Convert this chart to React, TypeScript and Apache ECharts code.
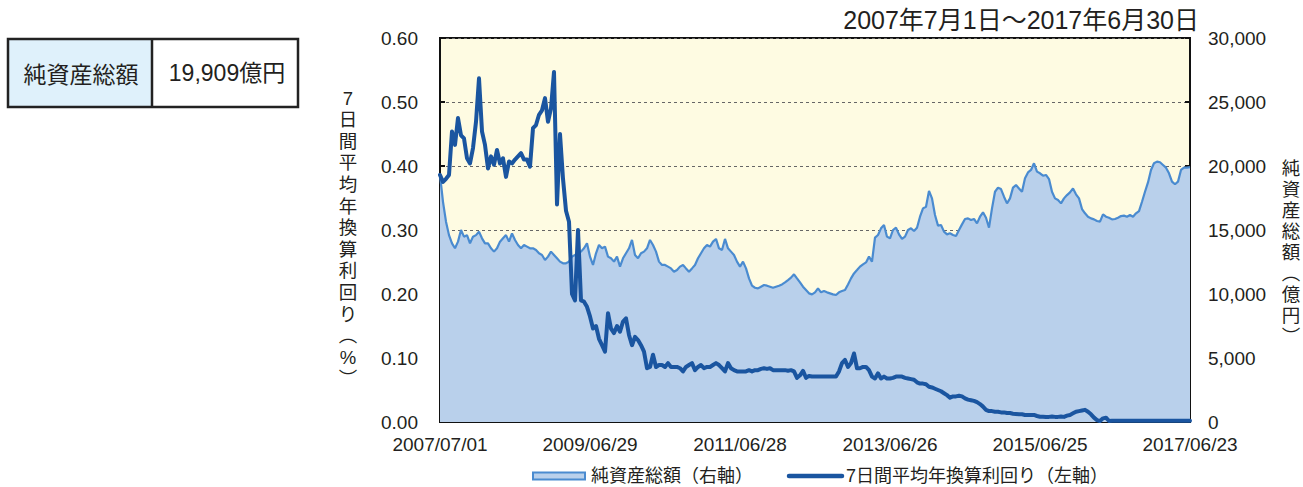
import React, { useEffect, useRef } from 'react';
import * as echarts from 'echarts';

// x-axis tick labels (every 50 samples)
const xTickLabels = ['2007/07/01', '2009/06/29', '2011/06/28', '2013/06/26', '2015/06/25', '2017/06/23'];

// 7日間平均年換算利回り (%) – left axis
const yieldValues = [
  0.386, 0.375, 0.38, 0.386, 0.454, 0.433, 0.475, 0.448, 0.443, 0.412,
  0.404, 0.428, 0.469, 0.537, 0.454, 0.433, 0.396, 0.415, 0.402, 0.425,
  0.404, 0.412, 0.383, 0.407, 0.404, 0.41, 0.415, 0.42, 0.41, 0.41,
  0.399, 0.459, 0.464, 0.48, 0.487, 0.506, 0.469, 0.49, 0.547, 0.34,
  0.45, 0.38, 0.33, 0.313, 0.2, 0.19, 0.3, 0.19, 0.188, 0.18,
  0.165, 0.146, 0.15, 0.13, 0.12, 0.11, 0.17, 0.146, 0.139, 0.15,
  0.141, 0.157, 0.162, 0.136, 0.12, 0.133, 0.128, 0.12, 0.11, 0.084,
  0.086, 0.105, 0.086, 0.089, 0.089, 0.086, 0.092, 0.086, 0.086, 0.086,
  0.084, 0.079, 0.086, 0.089, 0.092, 0.081, 0.086, 0.089, 0.084, 0.086,
  0.086, 0.089, 0.092, 0.089, 0.084, 0.079, 0.092, 0.084, 0.081, 0.079,
  0.079, 0.079, 0.079, 0.081, 0.079, 0.081, 0.081, 0.083, 0.084, 0.083,
  0.084, 0.081, 0.081, 0.081, 0.081, 0.081, 0.08, 0.081, 0.079, 0.069,
  0.073, 0.08, 0.069, 0.072, 0.071, 0.071, 0.071, 0.071, 0.071, 0.071,
  0.071, 0.071, 0.071, 0.079, 0.092, 0.097, 0.086, 0.092, 0.107, 0.084,
  0.084, 0.086, 0.086, 0.081, 0.071, 0.068, 0.076, 0.068, 0.071, 0.068,
  0.068, 0.069, 0.071, 0.071, 0.071, 0.069, 0.068, 0.067, 0.066, 0.062,
  0.06, 0.06, 0.059, 0.055, 0.054, 0.052, 0.05, 0.048, 0.045, 0.042,
  0.038, 0.04, 0.04, 0.041, 0.04, 0.037, 0.035, 0.034, 0.033, 0.031,
  0.028, 0.024, 0.019, 0.017, 0.017, 0.016, 0.016, 0.015, 0.015, 0.014,
  0.014, 0.013, 0.0125, 0.012, 0.012, 0.011, 0.011, 0.011, 0.011, 0.0094,
  0.0083, 0.0083, 0.008, 0.008, 0.0085, 0.008, 0.008, 0.0085, 0.008, 0.0099,
  0.011, 0.0135, 0.016, 0.017, 0.018, 0.019, 0.016, 0.012, 0.0068, 0.003,
  0.0015, 0.0057, 0.0068, 0.0015, 0.002, 0.002, 0.002, 0.002, 0.002, 0.002,
  0.002, 0.002, 0.002, 0.002, 0.002, 0.002, 0.002, 0.002, 0.002, 0.002,
  0.002, 0.002, 0.002, 0.002, 0.002, 0.002, 0.002, 0.002, 0.002, 0.002,
  0.002,
];

// 純資産総額 (億円) – right axis
const netAssets = [
  19300, 17200, 15650, 14600, 13960, 13570, 14090, 15000, 14480, 14600,
  13960, 14480, 14600, 14870, 14350, 13960, 13960, 13570, 13310, 13570,
  14090, 14350, 14600, 14090, 14740, 14220, 13830, 13570, 13830, 13700,
  13570, 13570, 13440, 13180, 13050, 12660, 12920, 13310, 13050, 12790,
  12530, 12400, 12400, 12530, 12920, 13050, 13180, 13310, 13570, 13960,
  12920, 12270, 13180, 13830, 13570, 13700, 12920, 12790, 12530, 12920,
  12140, 12790, 13180, 13570, 14220, 13050, 12790, 13180, 13310, 13570,
  14220, 13830, 13310, 12530, 12270, 12270, 12140, 12000, 11740, 11870,
  12140, 12270, 12000, 11740, 12000, 12270, 12790, 13180, 13570, 13830,
  13700, 14090, 14300, 13570, 13440, 14300, 13570, 13310, 13050, 12530,
  12140, 12530, 12000, 11220, 10650, 10490, 10440, 10570, 10700, 10650,
  10570, 10490, 10570, 10650, 10750, 10910, 11090, 11280, 11540, 11220,
  10910, 10570, 10310, 10050, 9970, 10130, 10440, 10130, 10230, 10130,
  10050, 9970, 9920, 10130, 10230, 10310, 10750, 11220, 11610, 11870,
  12140, 12320, 12470, 12920, 12530, 14400, 14610, 15130, 15390, 14480,
  14350, 15000, 15180, 14660, 14300, 14480, 15000, 15130, 14920, 15180,
  16040, 16690, 16820, 18050, 17470, 16170, 15340, 15390, 14870, 14660,
  14740, 14610, 14530, 15000, 15440, 15860, 15910, 15780, 15860, 15520,
  16040, 16380, 15960, 15180, 16690, 17990, 18310, 18200, 17600, 17080,
  17470, 18310, 18510, 18250, 17990, 19040, 19500, 19690, 20210, 19560,
  19430, 19240, 19300, 18980, 17990, 17470, 17340, 17080, 17470, 17730,
  17940, 18250, 17790, 17470, 16640, 16300, 16040, 15910, 15830, 15700,
  15650, 16220, 16040, 15960, 15830, 15860, 15960, 16090, 16120, 16040,
  16170, 16040, 16300, 16480, 17210, 17990, 18720, 19690, 20210, 20340,
  20290, 20080, 19870, 19430, 18780, 18570, 18780, 19690, 19870, 19870,
  19909,
];

const leftTicks = [0, 0.1, 0.2, 0.3, 0.4, 0.5, 0.6];
const rightTicks = [0, 5000, 10000, 15000, 20000, 25000, 30000];

const titleText = '2007年7月1日～2017年6月30日';
const tableLabel = '純資産総額';
const tableValue = '19,909億円';
const leftAxisName = ['7', '日', '間', '平', '均', '年', '換', '算', '利', '回', 'り', '︵', '%', '︶'];
const rightAxisName = ['純', '資', '産', '総', '額', '︵', '億', '円', '︶'];
const legendNames = ['純資産総額（右軸）', '7日間平均年換算利回り（左軸）'];

const FONT = "'Liberation Sans', 'Noto Sans CJK JP', sans-serif";
const CJK = "'Noto Sans CJK JP', 'Liberation Sans', sans-serif";
const TEXT = '#231f20';
const DARK = '#1a55a0';
const AREA_LINE = '#4a8bd0';
const AREA_FILL = '#b9d0eb';

export default function App() {
  const ref = useRef<HTMLDivElement>(null);

  useEffect(() => {
    document.body.style.margin = '0';
    if (!ref.current) return;
    const chart = echarts.init(ref.current, null, { renderer: 'svg' });
    const categories = netAssets.map((_, i) => String(i));
    const step = 50;

    const txt = (text: string, x: number, y: number, size: number, align: string, vAlign: string, family = FONT, extra: any = {}) => ({
      type: 'text',
      x,
      y,
      silent: true,
      style: {
        text,
        fill: TEXT,
        fontSize: size,
        fontFamily: family,
        textAlign: align,
        textVerticalAlign: vAlign,
        align,
        verticalAlign: vAlign,
        ...extra,
      },
    });

    const leftNameEls = leftAxisName.map((ch, i) => txt(ch, 348, 98 + i * 21.6, 18.5, 'center', 'middle', FONT, { lineHeight: 20 }));
    const rightNameEls = rightAxisName.map((ch, i) => txt(ch, 1291, 168 + i * 21, 18.5, 'center', 'middle', FONT, { lineHeight: 20 }));

    chart.setOption({
      animation: false,
      backgroundColor: '#ffffff',
      grid: {
        left: 440,
        top: 38,
        width: 750,
        height: 384,
        show: true,
        backgroundColor: '#fefbe2',
        borderColor: '#111',
        borderWidth: 2,
        containLabel: false,
      },
      xAxis: {
        type: 'category',
        data: categories,
        boundaryGap: false,
        axisLine: { show: true, lineStyle: { color: '#111', width: 2 } },
        axisTick: { show: true, inside: true, length: 5, interval: step - 1, lineStyle: { color: '#111', width: 2 } },
        axisLabel: {
          interval: step - 1,
          margin: 13,
          fontSize: 19,
          fontFamily: FONT,
          color: TEXT,
          formatter: (_v: string, idx: number) => (idx % step === 0 ? xTickLabels[idx / step] ?? '' : ''),
        },
        splitLine: { show: false },
      },
      yAxis: [
        {
          type: 'value',
          min: leftTicks[0],
          max: leftTicks[leftTicks.length - 1],
          interval: 0.1,
          position: 'left',
          axisLine: { show: true, lineStyle: { color: '#111', width: 2 } },
          axisTick: { show: true, inside: true, length: 5, lineStyle: { color: '#111', width: 2 } },
          axisLabel: { margin: 22, fontSize: 19, fontFamily: FONT, color: TEXT, formatter: (v: number) => v.toFixed(2) },
          splitLine: { show: true, lineStyle: { color: '#666', width: 1, type: [3, 3] } },
        },
        {
          type: 'value',
          min: rightTicks[0],
          max: rightTicks[rightTicks.length - 1],
          interval: 5000,
          position: 'right',
          axisLine: { show: true, lineStyle: { color: '#111', width: 2 } },
          axisTick: { show: true, inside: true, length: 5, lineStyle: { color: '#111', width: 2 } },
          axisLabel: { margin: 18, fontSize: 19, fontFamily: FONT, color: TEXT, formatter: (v: number) => v.toLocaleString('en-US') },
          splitLine: { show: false },
        },
      ],
      series: [
        {
          name: legendNames[0],
          type: 'line',
          yAxisIndex: 1,
          data: netAssets,
          showSymbol: false,
          symbol: 'none',
          silent: true,
          lineStyle: { color: AREA_LINE, width: 2.2 },
          areaStyle: { color: AREA_FILL, opacity: 1 },
          z: 2,
        },
        {
          name: legendNames[1],
          type: 'line',
          yAxisIndex: 0,
          data: yieldValues,
          showSymbol: false,
          symbol: 'none',
          silent: true,
          lineStyle: { color: DARK, width: 4, join: 'round', cap: 'round' },
          z: 3,
        },
      ],
      graphic: [
        // table
        { type: 'rect', silent: true, shape: { x: 8, y: 39, width: 144, height: 68 }, style: { fill: '#dff1fb' } },
        { type: 'rect', silent: true, shape: { x: 152, y: 39, width: 146, height: 68 }, style: { fill: '#ffffff' } },
        { type: 'rect', silent: true, shape: { x: 8, y: 39, width: 290, height: 68 }, style: { fill: 'none', stroke: '#222', lineWidth: 2.5 } },
        { type: 'line', silent: true, shape: { x1: 152, y1: 39, x2: 152, y2: 107 }, style: { stroke: '#222', lineWidth: 2.5 } },
        txt(tableLabel, 81, 73, 23, 'center', 'middle', CJK),
        txt(tableValue, 227, 73, 23, 'center', 'middle'),
        // title
        txt(titleText, 1199, 20, 25, 'right', 'middle'),
        // axis names
        ...leftNameEls,
        ...rightNameEls,
        // legend
        { type: 'rect', silent: true, shape: { x: 533, y: 472.5, width: 52, height: 7 }, style: { fill: AREA_FILL, stroke: AREA_LINE, lineWidth: 2 } },
        txt(legendNames[0], 591, 475.5, 18, 'left', 'middle', FONT, { lineHeight: 20 }),
        { type: 'line', silent: true, shape: { x1: 789, y1: 476, x2: 842, y2: 476 }, style: { stroke: DARK, lineWidth: 4.5, lineCap: 'round' } },
        txt(legendNames[1], 846, 475.5, 18, 'left', 'middle', FONT, { lineHeight: 20 }),
      ],
    });

    return () => chart.dispose();
  }, []);

  return <div ref={ref} style={{ width: 1303, height: 487 }} />;
}
